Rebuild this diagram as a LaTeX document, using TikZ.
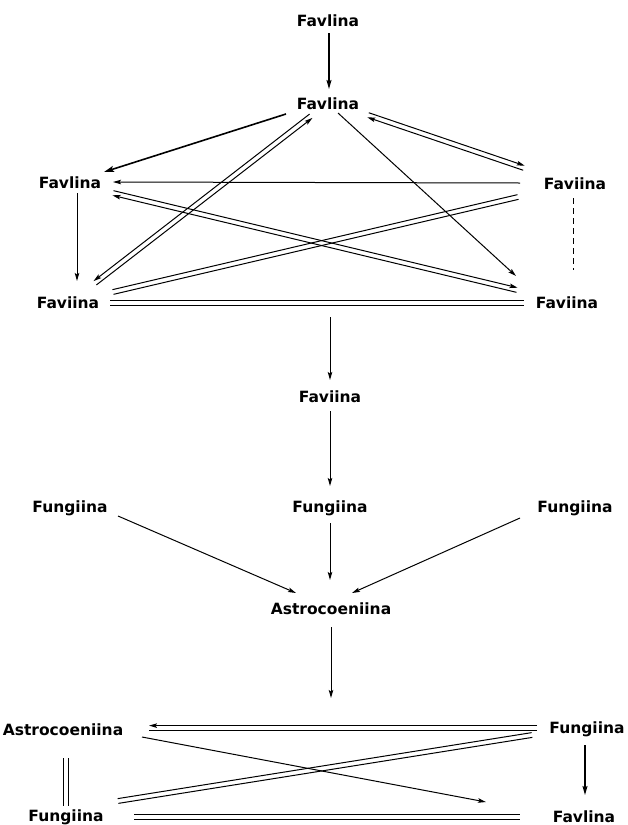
\documentclass[tikz,border=0pt]{standalone}
\usepackage{fontspec}
\setmainfont{DejaVu Sans}
\usetikzlibrary{arrows.meta,calc}
\tikzset{
  lbl/.style={font=\bfseries\fontsize{15.5}{18}\selectfont, inner sep=0pt},
  ln/.style={line width=1pt},
  arr/.style={ln, -{Stealth[length=8pt,width=4.5pt,inset=1.5pt]}},
  rarr/.style={ln, {Stealth[length=8pt,width=4.5pt,inset=1.5pt]}-},
  thickarr/.style={line width=1.6pt, -{Stealth[length=10pt,width=6pt,inset=2pt]}},
  midarr/.style={line width=1.3pt, -{Stealth[length=9pt,width=5pt,inset=1.5pt]}},
  dashline/.style={ln, dash pattern=on 6pt off 4pt},
}
\newcommand{\dblline}[4]{%
  \draw[#1] ($(#3)!2.4pt!90:(#4)$) -- ($(#4)!2.4pt!-90:(#3)$);
  \draw[#2] ($(#3)!2.4pt!-90:(#4)$) -- ($(#4)!2.4pt!90:(#3)$);}
\begin{document}
\begin{tikzpicture}[x=1pt,y=-1pt]
\useasboundingbox (0,0) rectangle (628,825);
% nodes
\node[lbl] (T)  at (328,21)  {Favlina};
\node[lbl] (F2) at (328,104) {Favlina};
\node[lbl] (L1) at (70,183)  {Favlina};
\node[lbl] (R1) at (575,184) {Faviina};
\node[lbl] (L2) at (68,303)  {Faviina};
\node[lbl] (R2) at (567,303) {Faviina};
\node[lbl] (M)  at (330,397) {Faviina};
\node[lbl] (FL) at (70,508)  {Fungiina};
\node[lbl] (FM) at (330,508) {Fungiina};
\node[lbl] (FR) at (575,508) {Fungiina};
\node[lbl] (A)  at (331,609) {Astrocoeniina};
\node[lbl] (AB) at (63,730)  {Astrocoeniina};
\node[lbl] (FB) at (587,729) {Fungiina};
\node[lbl] (GB) at (66,817)  {Fungiina};
\node[lbl] (VB) at (584,817) {Favlina};
% end points
\coordinate (e1s) at ($(T)+(1,12)$);    \coordinate (e1e) at ($(F2)+(1,-15)$);
\coordinate (e2s) at ($(F2)+(-42,10)$); \coordinate (e2e) at ($(L1)+(34,-11)$);
\coordinate (e3s) at ($(F2)+(-17,12)$); \coordinate (e3e) at ($(L2)+(27,-20)$);
\coordinate (e4s) at ($(F2)+(10,9)$);   \coordinate (e4e) at ($(R2)+(-51,-27)$);
\coordinate (e5s) at ($(F2)+(40,11)$);  \coordinate (e5e) at ($(R1)+(-51,-16)$);
\coordinate (e6s) at ($(R1)+(-55,-1)$); \coordinate (e6e) at ($(L1)+(43,-1)$);
\coordinate (e7s) at ($(L1)+(43,10)$);  \coordinate (e7e) at ($(R2)+(-50,-13)$);
\coordinate (e8s) at ($(R1)+(-57,13)$); \coordinate (e8e) at ($(L2)+(45,-11)$);
\coordinate (e9s) at ($(L1)+(7,10)$);   \coordinate (e9e) at ($(L2)+(9,-22)$);
\coordinate (e10s) at ($(L2)+(42,0)$);  \coordinate (e10e) at ($(R2)+(-43,0)$);
\coordinate (e11s) at ($(R1)+(-2,14)$); \coordinate (e11e) at ($(R2)+(6,-33)$);
\coordinate (mtop) at ($(M)+(0,-80)$);  \coordinate (e12e) at ($(M)+(0,-17)$);
\coordinate (e13s) at ($(M)+(0,14)$);   \coordinate (e13e) at ($(FM)+(0,-22)$);
\coordinate (e14s) at ($(FL)+(48,8)$);  \coordinate (e14e) at ($(A)+(-35,-16)$);
\coordinate (e15s) at ($(FM)+(0,15)$);  \coordinate (e15e) at ($(A)+(-1,-29)$);
\coordinate (e16s) at ($(FR)+(-55,10)$);\coordinate (e16e) at ($(A)+(21,-16)$);
\coordinate (e17s) at ($(A)+(0,18)$);   \coordinate (e17e) at ($(A)+(0,89)$);
\coordinate (e18s) at ($(FB)+(-50,-1)$);\coordinate (e18e) at ($(AB)+(86,-2)$);
\coordinate (e19s) at ($(AB)+(79,7)$);  \coordinate (e19e) at ($(VB)+(-98,-15)$);
\coordinate (e20s) at ($(FB)+(-55,6)$); \coordinate (e20e) at ($(GB)+(52,-16)$);
\coordinate (e21s) at ($(AB)+(3,28)$);  \coordinate (e21e) at ($(GB)+(0,-11)$);
\coordinate (e22s) at ($(FB)+(-2,16)$); \coordinate (e22e) at ($(VB)+(1,-22)$);
\coordinate (e23s) at ($(GB)+(68,0)$);  \coordinate (e23e) at ($(VB)+(-64,0)$);
% upper block
\draw[midarr] (e1s) -- (e1e);
\draw[thickarr] (e2s) -- (e2e);
\dblline{rarr}{arr}{e3s}{e3e}
\draw[arr] (e4s) -- (e4e);
\dblline{arr}{rarr}{e5s}{e5e}
\draw[arr] (e6s) -- (e6e);
\dblline{arr}{rarr}{e7s}{e7e}
\dblline{ln}{ln}{e8s}{e8e}
\draw[arr] (e9s) -- (e9e);
\dblline{ln}{ln}{e10s}{e10e}
\draw[dashline] (e11s) -- (e11e);
% middle
\draw[arr] (mtop) -- (e12e);
\draw[arr] (e13s) -- (e13e);
\draw[arr] (e14s) -- (e14e);
\draw[arr] (e15s) -- (e15e);
\draw[arr] (e16s) -- (e16e);
\draw[arr] (e17s) -- (e17e);
% bottom block
\dblline{ln}{arr}{e18s}{e18e}
\draw[arr] (e19s) -- (e19e);
\dblline{ln}{ln}{e20s}{e20e}
\dblline{ln}{ln}{e21s}{e21e}
\draw[midarr] (e22s) -- (e22e);
\dblline{ln}{ln}{e23s}{e23e}
\end{tikzpicture}
\end{document}
